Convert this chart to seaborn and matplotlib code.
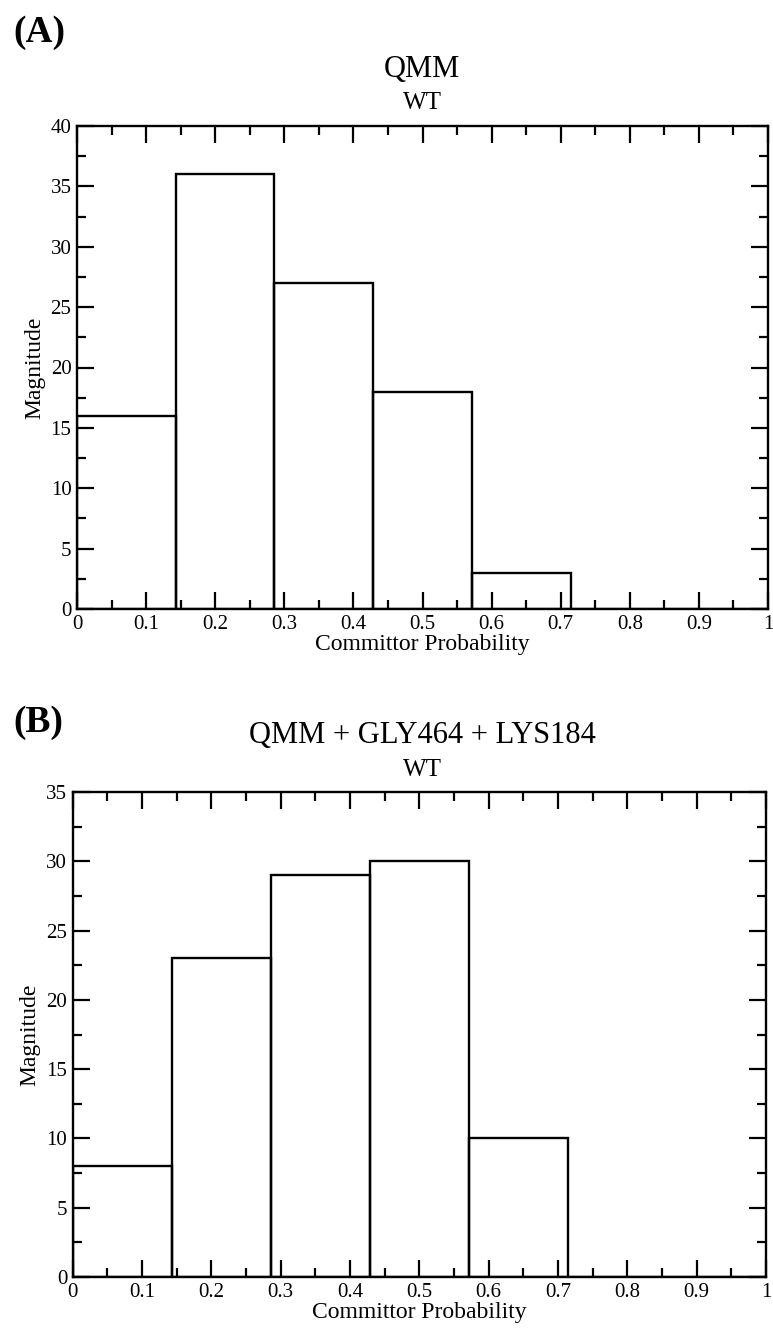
import numpy as np
import pandas as pd
import matplotlib
matplotlib.use("Agg")
import matplotlib.pyplot as plt
from matplotlib.ticker import MultipleLocator, FormatStrFormatter
import seaborn as sns

# ---- data ----
bin_edges = [0, 1/7, 2/7, 3/7, 4/7, 5/7, 6/7, 1]
counts_a = [16, 36, 27, 18, 3, 0, 0]
counts_b = [8, 23, 29, 30, 10, 0, 0]
panel_labels = ["(A)", "(B)"]
titles = ["QMM", "QMM + GLY464 + LYS184"]
subtitle = "WT"
x_label = "Committor Probability"
y_label = "Magnitude"
y_max = [40, 35]

sns.set_style("ticks")
plt.rcParams["font.family"] = ["Liberation Serif", "DejaVu Serif"]
plt.rcParams["text.color"] = "black"
plt.rcParams["axes.labelcolor"] = "black"
plt.rcParams["xtick.color"] = "black"
plt.rcParams["ytick.color"] = "black"

fig = plt.figure(figsize=(7.73, 13.28), dpi=100)
W, H = 773, 1328

def ax_rect(l, r, t, b):
    return [l / W, 1 - b / H, (r - l) / W, (b - t) / H]

rects = [ax_rect(77, 768, 126, 609), ax_rect(72.7, 766, 792, 1277)]
all_counts = [counts_a, counts_b]
title_y = [70, 736]
sub_y = [103, 770]
plab_y = [32, 722]

for i in range(2):
    ax = fig.add_axes(rects[i])
    edges = list(bin_edges)
    centers = [(edges[k] + edges[k + 1]) / 2 for k in range(len(edges) - 1)]
    df = pd.DataFrame({"x": centers, "w": all_counts[i]})
    sns.histplot(data=df, x="x", weights="w", bins=edges, fill=False,
                 color="black", linewidth=1.7, element="bars", ax=ax)
    ax.set_xlim(0, 1)
    ax.set_ylim(0, y_max[i])
    ax.xaxis.set_major_locator(MultipleLocator(0.1))
    ax.xaxis.set_minor_locator(MultipleLocator(0.05))
    ax.yaxis.set_major_locator(MultipleLocator(5))
    ax.yaxis.set_minor_locator(MultipleLocator(2.5))
    ax.xaxis.set_major_formatter(FormatStrFormatter("%g"))
    ax.yaxis.set_major_formatter(FormatStrFormatter("%g"))
    ax.tick_params(which="both", direction="in", top=True, right=True,
                   width=1.6, labelsize=15, pad=4, colors="black",
                   labelcolor="black")
    ax.tick_params(which="major", length=12.5)
    ax.tick_params(which="minor", length=6.5)
    for s in ax.spines.values():
        s.set_linewidth(1.7)
        s.set_color("black")
    ax.set_xlabel(x_label, fontsize=17, labelpad=0, color="black")
    ax.set_ylabel(y_label, fontsize=17, labelpad=4, color="black")
    fig.text(422 / W, 1 - title_y[i] / H, titles[i], fontsize=22,
             ha="center", va="center", color="black")
    fig.text(422 / W, 1 - sub_y[i] / H, subtitle, fontsize=18,
             ha="center", va="center", color="black")
    fig.text(13 / W, 1 - plab_y[i] / H, panel_labels[i], fontsize=27,
             fontweight="bold", ha="left", va="center", color="black")

fig.savefig("out.png", dpi=100, facecolor="white")
